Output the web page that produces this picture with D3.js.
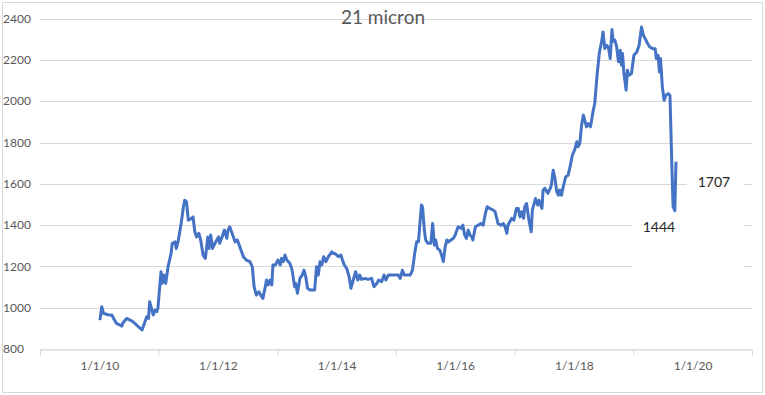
<html>
<head>
<script src="https://d3js.org/d3.v7.min.js"></script>
<style>
  body { margin: 0; background: #fff; }
  text { font-family: Lato, "Open Sans", sans-serif; }
</style>
</head>
<body>
<div id="chart"></div>
<script>
// weekly-ish price readings, decimal year -> cents/kg clean
var years = [
  2010.01, 2010.04, 2010.07, 2010.15, 2010.21, 2010.24, 2010.29, 2010.35, 2010.38, 2010.40,
  2010.46, 2010.52, 2010.57, 2010.63, 2010.69, 2010.72, 2010.77, 2010.80, 2010.83, 2010.85,
  2010.88, 2010.91, 2010.94, 2010.97, 2010.99, 2011.02, 2011.04, 2011.06, 2011.09, 2011.12,
  2011.16, 2011.21, 2011.23, 2011.28, 2011.30, 2011.33, 2011.38, 2011.42, 2011.44, 2011.47,
  2011.50, 2011.56, 2011.58, 2011.61, 2011.64, 2011.68, 2011.71, 2011.75, 2011.79, 2011.83,
  2011.85, 2011.88, 2011.91, 2011.95, 2012.01, 2012.03, 2012.07, 2012.11, 2012.15, 2012.17,
  2012.20, 2012.24, 2012.29, 2012.33, 2012.37, 2012.43, 2012.48, 2012.54, 2012.58, 2012.61,
  2012.65, 2012.69, 2012.74, 2012.76, 2012.80, 2012.82, 2012.85, 2012.88, 2012.91, 2012.93,
  2012.97, 2013.01, 2013.05, 2013.07, 2013.10, 2013.13, 2013.16, 2013.21, 2013.25, 2013.29,
  2013.31, 2013.34, 2013.38, 2013.42, 2013.45, 2013.48, 2013.51, 2013.55, 2013.61, 2013.63,
  2013.66, 2013.69, 2013.72, 2013.75, 2013.78, 2013.82, 2013.86, 2013.92, 2013.94, 2013.97,
  2014.03, 2014.07, 2014.10, 2014.13, 2014.17, 2014.21, 2014.24, 2014.28, 2014.32, 2014.36,
  2014.39, 2014.42, 2014.48, 2014.53, 2014.59, 2014.63, 2014.68, 2014.71, 2014.76, 2014.80,
  2014.83, 2014.87, 2014.93, 2014.98, 2015.04, 2015.07, 2015.11, 2015.14, 2015.24, 2015.28,
  2015.32, 2015.35, 2015.38, 2015.40, 2015.43, 2015.45, 2015.48, 2015.50, 2015.54, 2015.59,
  2015.62, 2015.65, 2015.67, 2015.70, 2015.74, 2015.77, 2015.80, 2015.83, 2015.86, 2015.89,
  2015.93, 2015.97, 2016.00, 2016.05, 2016.11, 2016.13, 2016.16, 2016.19, 2016.22, 2016.25,
  2016.28, 2016.30, 2016.34, 2016.39, 2016.43, 2016.47, 2016.51, 2016.54, 2016.58, 2016.64,
  2016.67, 2016.70, 2016.72, 2016.77, 2016.81, 2016.84, 2016.87, 2016.89, 2016.92, 2016.95,
  2016.99, 2017.03, 2017.06, 2017.09, 2017.12, 2017.15, 2017.17, 2017.20, 2017.24, 2017.28,
  2017.30, 2017.33, 2017.35, 2017.39, 2017.41, 2017.46, 2017.48, 2017.51, 2017.56, 2017.60,
  2017.62, 2017.65, 2017.68, 2017.71, 2017.74, 2017.76, 2017.79, 2017.82, 2017.86, 2017.90,
  2017.93, 2017.97, 2018.02, 2018.05, 2018.07, 2018.10, 2018.13, 2018.16, 2018.19, 2018.21,
  2018.24, 2018.28, 2018.32, 2018.35, 2018.39, 2018.43, 2018.47, 2018.49, 2018.52, 2018.55,
  2018.58, 2018.61, 2018.64, 2018.66, 2018.69, 2018.72, 2018.75, 2018.78, 2018.80, 2018.82,
  2018.84, 2018.88, 2018.90, 2018.93, 2018.97, 2019.01, 2019.06, 2019.10, 2019.14, 2019.17,
  2019.20, 2019.24, 2019.28, 2019.33, 2019.37, 2019.39, 2019.42, 2019.44, 2019.46, 2019.49,
  2019.52, 2019.55, 2019.59, 2019.62, 2019.65, 2019.67, 2019.70, 2019.72
]
var prices = [
  940, 1005, 973, 965, 965, 948, 924, 916, 911, 927,
  948, 940, 932, 916, 900, 892, 932, 956, 948, 1029,
  997, 965, 989, 981, 997, 1102, 1174, 1118, 1158, 1118,
  1198, 1263, 1312, 1319, 1287, 1319, 1408, 1489, 1521, 1513,
  1424, 1433, 1440, 1368, 1343, 1360, 1328, 1255, 1239, 1343,
  1287, 1352, 1287, 1312, 1343, 1312, 1343, 1376, 1336, 1376,
  1392, 1360, 1319, 1328, 1295, 1247, 1231, 1223, 1198, 1102,
  1061, 1077, 1053, 1045, 1102, 1134, 1110, 1134, 1110, 1207,
  1207, 1231, 1207, 1239, 1223, 1255, 1231, 1215, 1182, 1102,
  1118, 1070, 1142, 1158, 1182, 1150, 1094, 1086, 1086, 1086,
  1198, 1158, 1223, 1207, 1247, 1223, 1247, 1271, 1263, 1263,
  1247, 1255, 1231, 1207, 1190, 1150, 1094, 1134, 1174, 1134,
  1158, 1137, 1142, 1137, 1142, 1102, 1118, 1134, 1126, 1158,
  1134, 1158, 1158, 1158, 1158, 1142, 1182, 1158, 1158, 1182,
  1271, 1319, 1319, 1392, 1497, 1489, 1376, 1328, 1312, 1312,
  1408, 1303, 1328, 1287, 1279, 1255, 1223, 1295, 1328, 1319,
  1328, 1336, 1352, 1392, 1384, 1400, 1352, 1336, 1376, 1352,
  1344, 1328, 1392, 1400, 1408, 1400, 1457, 1489, 1481, 1473,
  1465, 1433, 1408, 1400, 1408, 1392, 1360, 1400, 1416, 1433,
  1424, 1481, 1481, 1440, 1465, 1433, 1489, 1505, 1424, 1368,
  1473, 1505, 1529, 1497, 1521, 1481, 1570, 1578, 1554, 1578,
  1594, 1666, 1626, 1562, 1545, 1570, 1545, 1586, 1634, 1642,
  1675, 1735, 1771, 1804, 1780, 1796, 1884, 1933, 1900, 1876,
  1892, 1876, 1949, 1989, 2126, 2239, 2296, 2336, 2255, 2271,
  2263, 2207, 2348, 2291, 2296, 2263, 2191, 2247, 2175, 2231,
  2142, 2054, 2150, 2126, 2134, 2223, 2239, 2271, 2360, 2320,
  2304, 2280, 2263, 2255, 2255, 2207, 2223, 2142, 2207, 2070,
  2005, 2029, 2037, 2029, 1707, 1490, 1470, 1707
]
var yTicks = [800, 1000, 1200, 1400, 1600, 1800, 2000, 2200, 2400]
var tickYears = [2009, 2011, 2013, 2015, 2017, 2019, 2021]
var labelYears = [2010, 2012, 2014, 2016, 2018, 2020]
var notes = [{text: "1707", x: 714, y: 182}, {text: "1444", x: 659, y: 227}]

var width = 765, height = 395
var margin = {left: 40, right: 752, top: 18.7, bottom: 349}

function toDate(t) {
  var yr = Math.floor(t)
  return new Date(yr, 0, 1 + Math.round((t - yr) * 365))
}

var data = years.map((t, i) => ({date: toDate(t), value: prices[i]}))

var svg = d3.select("#chart").append("svg")
  .attr("width", width)
  .attr("height", height)

svg.append("rect")
  .attr("x", 2.5).attr("y", 2.5)
  .attr("width", 760).attr("height", 390)
  .attr("fill", "#fff")
  .attr("stroke", "#d9d9d9")

var x = d3.scaleTime()
  .domain([new Date(2009, 0, 1), new Date(2021, 0, 1)])
  .range([margin.left, margin.right])

var y = d3.scaleLinear()
  .domain([800, 2400])
  .range([margin.bottom, margin.top])

// gridlines
svg.append("g")
  .selectAll("line")
  .data(yTicks)
  .join("line")
    .attr("x1", margin.left).attr("x2", margin.right)
    .attr("y1", d => Math.round(y(d)) + 0.5)
    .attr("y2", d => Math.round(y(d)) + 0.5)
    .attr("stroke", "#d9d9d9")
    .attr("stroke-width", 1)

// y labels, left aligned like the source
svg.append("g")
  .selectAll("text")
  .data(yTicks)
  .join("text")
    .attr("x", 3)
    .attr("y", d => y(d))
    .attr("dy", "0.35em")
    .attr("font-size", 12)
    .attr("fill", "#595959")
    .text(d => d)

// x axis tick marks at odd years
var tickAxis = d3.axisBottom(x)
  .tickValues(tickYears.map(yr => new Date(yr, 0, 1)))
  .tickSize(6)
  .tickFormat("")
var gx = svg.append("g")
  .attr("transform", `translate(0,${Math.round(margin.bottom) + 0.5})`)
  .call(tickAxis)
gx.select(".domain").attr("stroke", "#d9d9d9")
gx.selectAll(".tick line").attr("stroke", "#d9d9d9")

// x labels at even years
var labelAxis = d3.axisBottom(x)
  .tickValues(labelYears.map(yr => new Date(yr, 0, 1)))
  .tickSize(0)
  .tickPadding(12)
  .tickFormat(d3.timeFormat("1/1/%y"))
var gl = svg.append("g")
  .attr("transform", `translate(0,${margin.bottom})`)
  .attr("font-size", 12)
  .call(labelAxis)
gl.select(".domain").remove()
gl.selectAll("text")
  .attr("font-size", 12)
  .attr("fill", "#595959")

// white boxes behind the text notes
svg.append("rect").attr("x", 632).attr("y", 200).attr("width", 112).attr("height", 74).attr("fill", "#fff")
svg.append("rect").attr("x", 687).attr("y", 168).attr("width", 57).attr("height", 30).attr("fill", "#fff")

var line = d3.line()
  .x(d => x(d.date))
  .y(d => y(d.value))

svg.append("path")
  .datum(data)
  .attr("d", line)
  .attr("fill", "none")
  .attr("stroke", "#4472c4")
  .attr("stroke-width", 3)
  .attr("stroke-linejoin", "round")

svg.append("g")
  .selectAll("text")
  .data(notes)
  .join("text")
    .attr("x", d => d.x)
    .attr("y", d => d.y)
    .attr("text-anchor", "middle")
    .attr("dy", "0.35em")
    .attr("font-size", 14)
    .attr("fill", "#262626")
    .text(d => d.text)

svg.append("text")
  .attr("x", 383)
  .attr("y", 17)
  .attr("dy", "0.35em")
  .attr("text-anchor", "middle")
  .attr("font-size", 19)
  .attr("fill", "#595959")
  .text("21 micron")
</script>
</body>
</html>
